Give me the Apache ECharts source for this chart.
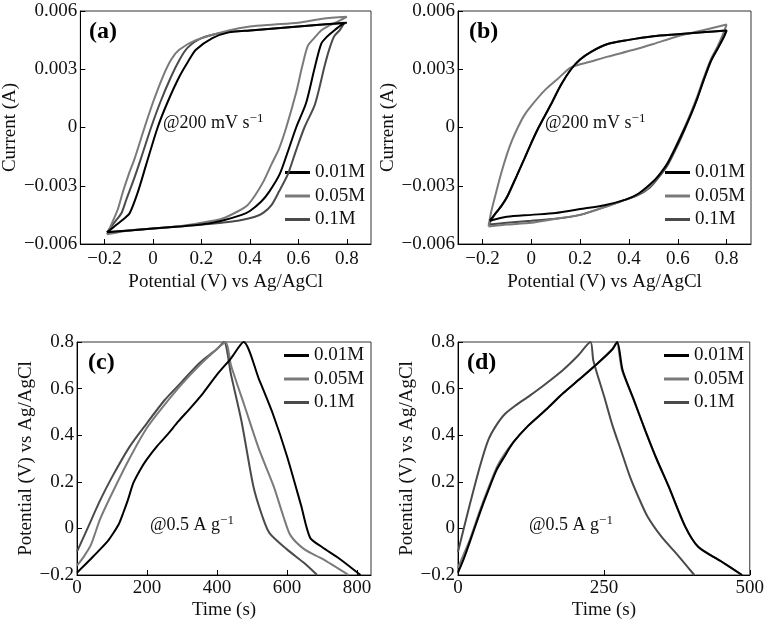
<!DOCTYPE html>
<html>
<head>
<meta charset="utf-8">
<script src="https://cdn.jsdelivr.net/npm/echarts@6/dist/echarts.min.js"></script>
<style>html,body{margin:0;padding:0;background:#fff}#c{width:767px;height:623px}</style>
</head>
<body>
<div id="c"></div>
<script>
// ---------- data ----------
const seriesNames = ['0.01M', '0.05M', '0.1M'];
const seriesColors = ['#000000', '#7a7a7a', '#4a4a4a'];

// (a) CV loops [potential V, current A]
const cvA_001 = [[-0.19,-0.0054],[-0.15,-0.0050],[-0.12,-0.0047],[-0.096,-0.0044],[-0.062,-0.0033],[-0.028,-0.0019],[0.019,0],[0.06,0.0013],[0.108,0.0026],[0.145,0.0034],[0.177,0.0040],[0.245,0.0046],[0.313,0.0049],[0.4,0.0050],[0.5,0.0051],[0.6,0.0052],[0.7,0.0053],[0.8,0.0054],
  [0.78,0.0053],[0.748,0.0050],[0.72,0.0047],[0.694,0.0043],[0.666,0.0030],[0.632,0.00126],[0.591,0],[0.555,-0.0013],[0.523,-0.0024],[0.48,-0.0033],[0.448,-0.0038],[0.4,-0.0043],[0.366,-0.0045],[0.284,-0.0048],[0.2,-0.0050],[0.108,-0.0051],[0,-0.0052],[-0.096,-0.0053],[-0.19,-0.0054]];
const cvA_005 = [[-0.19,-0.0055],[-0.165,-0.0048],[-0.145,-0.0042],[-0.124,-0.0033],[-0.1,-0.0024],[-0.076,-0.0016],[-0.035,0],[0,0.0013],[0.04,0.0026],[0.075,0.0035],[0.108,0.0040],[0.177,0.0045],[0.313,0.0050],[0.4,0.0052],[0.5,0.0053],[0.6,0.0054],[0.7,0.0056],[0.8,0.0057],
  [0.77,0.0055],[0.72,0.0052],[0.694,0.0050],[0.665,0.0046],[0.639,0.0042],[0.615,0.0031],[0.591,0.0018],[0.55,0],[0.52,-0.0011],[0.489,-0.0019],[0.455,-0.0028],[0.421,-0.0035],[0.39,-0.0040],[0.353,-0.0043],[0.284,-0.0047],[0.2,-0.0049],[0.1,-0.0051],[0,-0.0052],[-0.1,-0.0053],[-0.19,-0.0055]];
const cvA_01 = [[-0.19,-0.0054],[-0.16,-0.0049],[-0.13,-0.0044],[-0.11,-0.0037],[-0.08,-0.0027],[-0.05,-0.0016],[-0.008,0],[0.03,0.0013],[0.074,0.0026],[0.11,0.0035],[0.142,0.0041],[0.2,0.0046],[0.3,0.0049],[0.4,0.0050],[0.5,0.0051],[0.6,0.0052],[0.7,0.0053],[0.79,0.0054],
  [0.77,0.0050],[0.748,0.0047],[0.727,0.0040],[0.707,0.0031],[0.686,0.0020],[0.666,0.0011],[0.625,0],[0.59,-0.0012],[0.557,-0.0024],[0.52,-0.0033],[0.489,-0.0040],[0.455,-0.0044],[0.421,-0.0046],[0.35,-0.0048],[0.284,-0.0049],[0.2,-0.0050],[0.1,-0.0051],[0,-0.0052],[-0.1,-0.0053],[-0.19,-0.0054]];

// (b) CV loops
const cvB_001 = [[-0.17,-0.0048],[-0.145,-0.0044],[-0.12,-0.0040],[-0.096,-0.0035],[-0.06,-0.0025],[-0.028,-0.0016],[0,-0.0008],[0.026,-0.0001],[0.081,0.0012],[0.122,0.0022],[0.163,0.0030],[0.2,0.0035],[0.245,0.0039],[0.313,0.0043],[0.393,0.0045],[0.5,0.0047],[0.6,0.0048],[0.7,0.0049],[0.8,0.0050],
  [0.79,0.0047],[0.765,0.0041],[0.735,0.0034],[0.705,0.0024],[0.68,0.0015],[0.655,0.0007],[0.63,0],[0.6,-0.0008],[0.56,-0.0018],[0.52,-0.0025],[0.489,-0.0029],[0.44,-0.0034],[0.39,-0.0037],[0.3,-0.0040],[0.2,-0.0042],[0.1,-0.0044],[0,-0.0045],[-0.1,-0.0046],[-0.17,-0.0048]];
const cvB_005 = [[-0.175,-0.0051],[-0.165,-0.0044],[-0.145,-0.0034],[-0.124,-0.0024],[-0.1,-0.0014],[-0.08,-0.0007],[-0.055,0],[-0.03,0.0006],[-0.001,0.0011],[0.054,0.0019],[0.108,0.0025],[0.163,0.0031],[0.245,0.0034],[0.313,0.00365],[0.42,0.0040],[0.5,0.0043],[0.6,0.0047],[0.7,0.0050],[0.8,0.0053],
  [0.785,0.0048],[0.76,0.0041],[0.735,0.0035],[0.705,0.0025],[0.68,0.0016],[0.655,0.0008],[0.628,0],[0.595,-0.0009],[0.555,-0.0019],[0.515,-0.0026],[0.48,-0.0031],[0.43,-0.0035],[0.39,-0.0037],[0.3,-0.0041],[0.2,-0.0045],[0.1,-0.0047],[0,-0.0049],[-0.1,-0.0050],[-0.175,-0.0051]];
const cvB_01 = [[-0.175,-0.0050],[-0.15,-0.0045],[-0.12,-0.0040],[-0.096,-0.0035],[-0.06,-0.0025],[-0.028,-0.0016],[0,-0.0008],[0.026,-0.0001],[0.081,0.0012],[0.122,0.0022],[0.163,0.0030],[0.2,0.0035],[0.245,0.0039],[0.313,0.0043],[0.393,0.0045],[0.5,0.0047],[0.6,0.0048],[0.7,0.0049],[0.8,0.0050],
  [0.79,0.0047],[0.765,0.0041],[0.735,0.0034],[0.705,0.0024],[0.68,0.0015],[0.655,0.0007],[0.632,0],[0.6,-0.0009],[0.56,-0.0019],[0.52,-0.0026],[0.485,-0.0031],[0.435,-0.0035],[0.39,-0.0037],[0.3,-0.0041],[0.2,-0.0045],[0.1,-0.0047],[0,-0.0048],[-0.1,-0.0049],[-0.175,-0.0050]];

// (c) charge-discharge [time s, potential V]
const gcdC_001 = [[0,-0.19],[20,-0.16],[40,-0.13],[66,-0.09],[90,-0.05],[104,-0.02],[120,0.02],[132,0.066],[145,0.12],[161,0.195],[180,0.25],[199,0.295],[230,0.355],[257,0.40],[290,0.46],[320,0.51],[360,0.58],[400,0.66],[440,0.73],[476,0.80],
  [520,0.64],[560,0.49],[600,0.31],[640,0.10],[666,-0.04],[700,-0.08],[750,-0.13],[810,-0.20]];
const gcdC_005 = [[0,-0.16],[20,-0.12],[40,-0.07],[66,0.04],[100,0.15],[150,0.30],[199,0.43],[250,0.53],[300,0.62],[350,0.70],[400,0.77],[425,0.80],
  [440,0.70],[480,0.52],[520,0.34],[562,0.18],[590,0.05],[610,-0.03],[650,-0.09],[700,-0.13],[776,-0.20]];
const gcdC_01 = [[0,-0.10],[33,0.01],[66,0.12],[100,0.22],[150,0.35],[199,0.45],[250,0.55],[300,0.63],[350,0.71],[400,0.77],[420,0.80],
  [440,0.66],[470,0.46],[504,0.18],[530,0.05],[550,-0.02],[600,-0.09],[650,-0.15],[686,-0.20]];

// (d) charge-discharge
const gcdD_001 = [[0,-0.19],[10,-0.13],[20,-0.06],[38,0.07],[50,0.15],[66,0.25],[80,0.31],[95,0.37],[120,0.44],[151,0.51],[180,0.58],[208,0.64],[240,0.71],[265,0.77],[273,0.80],
  [282,0.68],[300,0.56],[321,0.42],[340,0.30],[361,0.18],[389,0.01],[412,-0.08],[450,-0.14],[487,-0.20]];
const gcdD_005 = [[0,-0.17],[10,-0.11],[20,-0.05],[38,0.08],[50,0.16],[66,0.26],[80,0.32],[95,0.37],[120,0.44],[151,0.51],[180,0.58],[208,0.64],[240,0.71],[265,0.77],[272,0.80],
  [281,0.68],[300,0.56],[321,0.42],[340,0.30],[361,0.18],[389,0.01],[412,-0.08],[450,-0.14],[486,-0.20]];
const gcdD_01 = [[0,-0.10],[20,0.10],[38,0.27],[52,0.38],[65,0.44],[80,0.49],[100,0.53],[123,0.57],[150,0.62],[180,0.68],[205,0.74],[227,0.80],
  [232,0.72],[250,0.57],[265,0.44],[280,0.33],[295,0.22],[310,0.13],[325,0.05],[350,-0.04],[375,-0.11],[405,-0.20]];

const cvTicksX = [-0.2, 0, 0.2, 0.4, 0.6, 0.8];
const gcdTicksXc = [0, 200, 400, 600, 800];
const gcdTicksXd = [0, 250, 500];

const panelData = [
  [cvA_001, cvA_005, cvA_01],
  [cvB_001, cvB_005, cvB_01],
  [gcdC_001, gcdC_005, gcdC_01],
  [gcdD_001, gcdD_005, gcdD_01]
];

// ---------- chart ----------
const FONT = '"Liberation Serif", "Times New Roman", serif';
const FS = 19;
const fmt = d => v => Math.abs(v) < 1e-12 ? '0' : (v < 0 ? '\u2212' : '') + Math.abs(v).toFixed(d);

const grids = [
  {left: 78, top: 11, width: 293, height: 233},
  {left: 458, top: 11, width: 293, height: 233},
  {left: 77, top: 342, width: 294, height: 233},
  {left: 458, top: 342, width: 293, height: 233}
].map(g => Object.assign({show: true, borderColor: '#333', borderWidth: 1}, g));

const axisCommon = {
  axisLine: {show: true, onZero: false, lineStyle: {color: '#000', width: 1}},
  axisTick: {show: true, inside: true, length: 5, lineStyle: {color: '#000'}},
  splitLine: {show: false},
  axisLabel: {color: '#111', fontFamily: FONT, fontSize: FS},
  nameTextStyle: {color: '#111', fontFamily: FONT, fontSize: FS},
  nameLocation: 'middle'
};
function mk(extra) {
  const o = JSON.parse(JSON.stringify(axisCommon));
  for (const k in extra) {
    if (typeof extra[k] === 'object' && !Array.isArray(extra[k]) && o[k]) Object.assign(o[k], extra[k]);
    else o[k] = extra[k];
  }
  return o;
}

const xAxes = [
  mk({type: 'value', gridIndex: 0, min: -0.3, max: 0.9, name: 'Potential (V) vs Ag/AgCl', nameGap: 29,
      axisTick: {customValues: cvTicksX}, axisLabel: {customValues: cvTicksX, margin: 6}}),
  mk({type: 'value', gridIndex: 1, min: -0.3, max: 0.9, name: 'Potential (V) vs Ag/AgCl', nameGap: 29,
      axisTick: {customValues: cvTicksX}, axisLabel: {customValues: cvTicksX, margin: 6}}),
  mk({type: 'value', gridIndex: 2, min: 0, max: 840, name: 'Time (s)', nameGap: 26,
      axisTick: {customValues: gcdTicksXc}, axisLabel: {customValues: gcdTicksXc, margin: 4}}),
  mk({type: 'value', gridIndex: 3, min: 0, max: 500, name: 'Time (s)', nameGap: 26,
      axisTick: {customValues: gcdTicksXd}, axisLabel: {customValues: gcdTicksXd, margin: 4}})
];
xAxes[0].axisLabel.formatter = fmt(1);
xAxes[1].axisLabel.formatter = fmt(1);
xAxes[2].axisLabel.formatter = v => String(v);
xAxes[3].axisLabel.formatter = v => String(v);

const yAxes = [
  mk({type: 'value', gridIndex: 0, min: -0.006, max: 0.006, interval: 0.003, name: 'Current (A)', nameGap: 58, axisLabel: {margin: 3}}),
  mk({type: 'value', gridIndex: 1, min: -0.006, max: 0.006, interval: 0.003, name: 'Current (A)', nameGap: 58, axisLabel: {margin: 3}}),
  mk({type: 'value', gridIndex: 2, min: -0.2, max: 0.8, interval: 0.2, name: 'Potential (V) vs Ag/AgCl', nameGap: 36, axisLabel: {margin: 3}}),
  mk({type: 'value', gridIndex: 3, min: -0.2, max: 0.8, interval: 0.2, name: 'Potential (V) vs Ag/AgCl', nameGap: 36, axisLabel: {margin: 3}})
];
yAxes[0].axisLabel.formatter = fmt(3);
yAxes[1].axisLabel.formatter = fmt(3);
yAxes[2].axisLabel.formatter = fmt(1);
yAxes[3].axisLabel.formatter = fmt(1);

const series = [];
panelData.forEach((arr, p) => {
  arr.forEach((d, i) => {
    series.push({
      type: 'line', name: seriesNames[i], xAxisIndex: p, yAxisIndex: p,
      data: d, symbol: 'none', smooth: 0.25, animation: false,
      lineStyle: {color: seriesColors[i], width: 2}, itemStyle: {color: seriesColors[i]},
      z: 10 - i
    });
  });
});

const legendPos = [
  {left: 285, top: 163}, {left: 665, top: 163},
  {left: 284, top: 346}, {left: 664, top: 346}
];
const legends = legendPos.map(p => ({
  left: p.left, top: p.top, orient: 'vertical', itemGap: 4.5, itemWidth: 25, itemHeight: 3,
  icon: 'rect', padding: 0, selectedMode: false, data: seriesNames,
  textStyle: {fontFamily: FONT, fontSize: FS, color: '#111', lineHeight: 19}
}));

const labelStyle = {fontFamily: FONT, fontSize: 24, fontWeight: 'bold', fill: '#000'};
const noteRich = {
  a: {fontFamily: FONT, fontSize: 18, fill: '#111', color: '#111'},
  s: {fontFamily: FONT, fontSize: 13, fill: '#111', color: '#111', padding: [0, 0, 9, 0]}
};
const graphic = [
  {type: 'text', left: 89, top: 20, style: Object.assign({text: '(a)'}, labelStyle)},
  {type: 'text', left: 469, top: 20, style: Object.assign({text: '(b)'}, labelStyle)},
  {type: 'text', left: 88, top: 351, style: Object.assign({text: '(c)'}, labelStyle)},
  {type: 'text', left: 467, top: 351, style: Object.assign({text: '(d)'}, labelStyle)},
  {type: 'text', left: 163, top: 112, style: {text: '{a|@200 mV s}{s|\u22121}', rich: noteRich}},
  {type: 'text', left: 545, top: 112, style: {text: '{a|@200 mV s}{s|\u22121}', rich: noteRich}},
  {type: 'text', left: 150, top: 514, style: {text: '{a|@0.5 A g}{s|\u22121}', rich: noteRich}},
  {type: 'text', left: 529, top: 514, style: {text: '{a|@0.5 A g}{s|\u22121}', rich: noteRich}}
];

const chart = echarts.init(document.getElementById('c'), null, {renderer: 'canvas'});
chart.setOption({
  backgroundColor: '#fff',
  animation: false,
  grid: grids,
  xAxis: xAxes,
  yAxis: yAxes,
  legend: legends,
  series: series,
  graphic: graphic
});
</script>
</body>
</html>
